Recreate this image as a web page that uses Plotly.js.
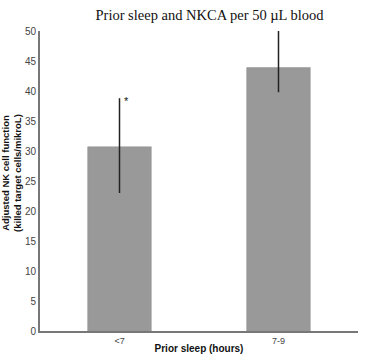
<!DOCTYPE html>
<html>
<head>
<meta charset="utf-8">
<script src="https://cdn.plot.ly/plotly-3.0.1.min.js"></script>
<style>html,body{margin:0;padding:0;background:#fff;}#chart{width:381px;height:354px;}</style>
</head>
<body>
<div id="chart"></div>
<script>
const categories = ["<7", "7-9"];
const values = [30.7, 43.9];
const errPlus = [8.1, 6.1];
const errMinus = [7.7, 4.1];
const yTicks = [0, 5, 10, 15, 20, 25, 30, 35, 40, 45, 50];

const trace = {
  type: "bar",
  x: categories,
  y: values,
  width: 0.4,
  marker: {color: "#999999", line: {color: "#8c8c8c", width: 0.5}},
  error_y: {type: "data", symmetric: false, array: errPlus, arrayminus: errMinus,
            color: "#222222", thickness: 1.5, width: 0},
  hoverinfo: "none"
};

const layout = {
  width: 381, height: 354,
  margin: {l: 40, r: 23, t: 31, b: 23},
  paper_bgcolor: "#ffffff", plot_bgcolor: "#ffffff",
  showlegend: false,
  title: {text: "Prior sleep and NKCA per 50 µL blood",
          font: {family: "Liberation Serif, Times New Roman, serif", size: 14.5, color: "#111"},
          x: 0.55, xanchor: "center", y: 0.957, yanchor: "middle"},
  xaxis: {
    type: "category", range: [-0.5, 1.5],
    showline: true, linecolor: "#777777", linewidth: 2,
    ticks: "", showgrid: false, zeroline: false,
    tickfont: {family: "Liberation Sans, Arial, sans-serif", size: 9, color: "#444"},
    title: {text: "<b>Prior sleep (hours)</b>", standoff: 2,
            font: {family: "Liberation Sans, Arial, sans-serif", size: 10, color: "#111"}}
  },
  yaxis: {
    range: [0, 50], tickvals: yTicks, ticktext: yTicks.map(String),
    showline: true, linecolor: "#777777", linewidth: 2,
    ticks: "", ticklen: 0, showgrid: false, zeroline: false,
    tickfont: {family: "Liberation Sans, Arial, sans-serif", size: 10, color: "#444"},
    title: {text: ""}
  },
  annotations: [{
    x: 0, y: values[0] + errPlus[0], xref: "x", yref: "y", xshift: 7, yshift: -3,
    text: "*", showarrow: false,
    font: {family: "Liberation Sans, Arial, sans-serif", size: 11, color: "#111"}
  }, {
    x: 0, y: 0.527, xref: "paper", yref: "paper", xshift: -28, xanchor: "center", yanchor: "middle",
    textangle: -90, showarrow: false,
    text: "<b>Adjusted NK cell function</b><br><b>(killed target cells/mikroL)</b>",
    font: {family: "Liberation Sans, Arial, sans-serif", size: 9.5, color: "#111"}
  }]
};

Plotly.newPlot("chart", [trace], layout, {displayModeBar: false, staticPlot: true});
</script>
</body>
</html>
